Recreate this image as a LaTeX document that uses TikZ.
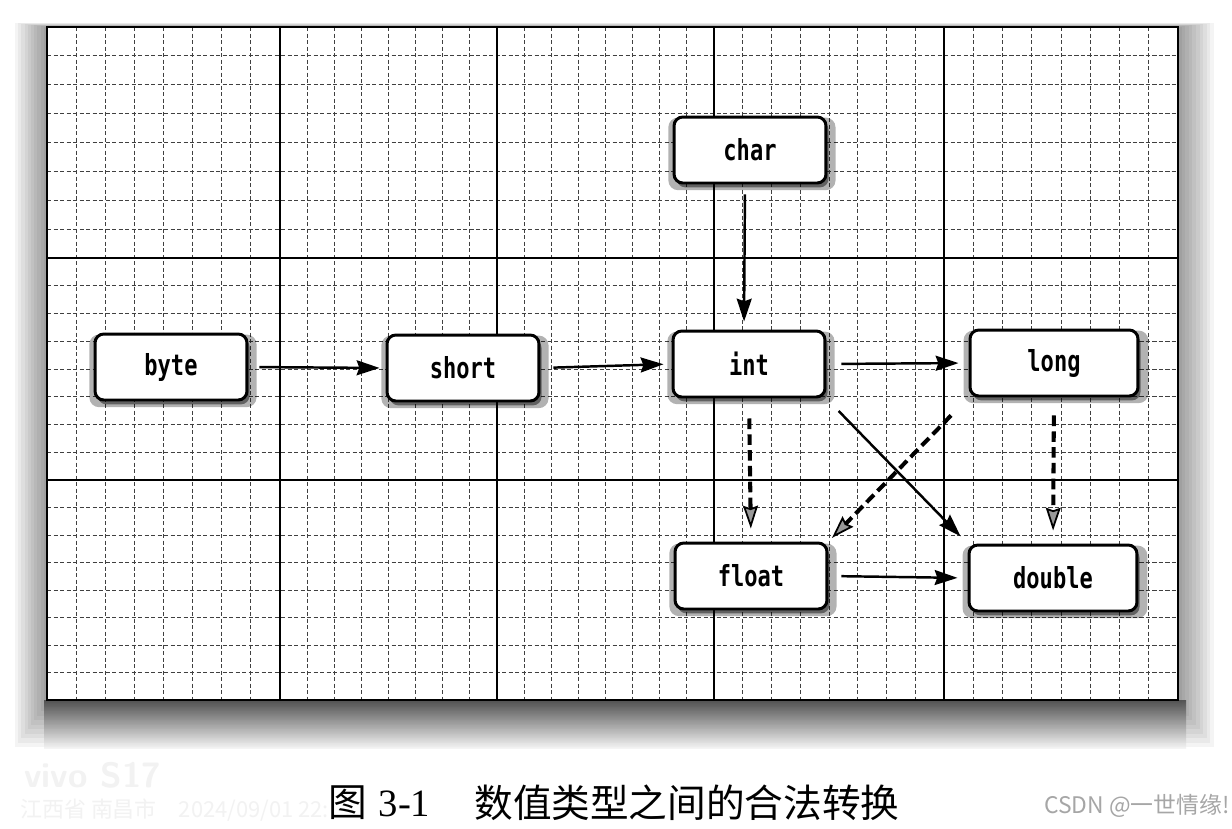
\documentclass[tikz,border=0pt]{standalone}
\usepackage{fontspec}
\usetikzlibrary{arrows.meta,shadows}
\newfontfamily\boxfont{DejaVu Sans Mono}[FakeStretch=0.76]
\newfontfamily\cjk{Noto Sans CJK SC}
\newfontfamily\capnum{Liberation Serif}
\tikzset{
  minorline/.style={black!75, line width=0.55pt, dash pattern=on 2.5pt off 1.2pt},
  majorline/.style={black, line width=1.1pt},
  typebox/.style={draw=black, line width=1.7pt, fill=white, rounded corners=5pt,
    minimum width=3.04cm, minimum height=1.32cm, inner sep=0pt,
    font=\boxfont\bfseries\fontsize{16.5}{19}\selectfont,
    general shadow={fill=black, opacity=0.3, shadow scale=1.1, shadow xshift=1pt, shadow yshift=-2pt},
    drop shadow={fill=black, opacity=0.45, shadow xshift=1.5pt, shadow yshift=-2.5pt}},
  widebox/.style={typebox, minimum width=3.36cm},
  conv/.style={line width=1.4pt, -{Stealth[length=13pt,width=8.5pt,inset=1.5pt]}},
  lossy/.style={line width=2.3pt, dash pattern=on 6pt off 3pt,
    -{Stealth[length=13pt,width=8.5pt,inset=1.5pt,fill=black!40,line width=1pt]}}
}
\begin{document}
\begin{tikzpicture}[x=0.02cm,y=-0.02cm]
\useasboundingbox (0,0) rectangle (1232,829);
\fill[white] (0,0) rectangle (1232,829);
% panel shadow
\foreach \i in {1,...,10}{
  \fill[black, opacity=0.045] ({47-3.2*\i},{27-0.4*\i}) rectangle ({1178+3.6*\i},{702+4.5*\i});
}
\shade[top color=black!75, bottom color=black!5, opacity=0.8] (44,700) rectangle (1186,748);
% panel
\fill[white] (47,27) rectangle (1178,700);
% minor grid
\foreach \a/\b in {47/280,280/497,497/714,714/944,944/1178}{
  \foreach \k in {1,...,7}{
    \draw[minorline] ({\a+\k*(\b-\a)/8},27) -- ({\a+\k*(\b-\a)/8},700);
  }
}
\foreach \a/\b in {27/258,258/480,480/700}{
  \foreach \k in {1,...,7}{
    \draw[minorline] (47,{\a+\k*(\b-\a)/8}) -- (1178,{\a+\k*(\b-\a)/8});
  }
}
% major grid
\foreach \x in {280,497,714,944}{ \draw[majorline] (\x,27) -- (\x,700); }
\foreach \y in {258,480}{ \draw[majorline] (47,\y) -- (1178,\y); }
\draw[majorline] (47,27) rectangle (1178,700);
% nodes
\node[typebox] (byte) at (171,367) {byte};
\node[typebox] (short) at (463,368) {short};
\node[typebox] (char) at (750,150) {char};
\node[typebox] (int) at (749,364) {int};
\node[widebox] (long) at (1054,363) {long};
\node[typebox] (float) at (751,576) {float};
\node[widebox] (double) at (1053,578) {double};
% conversions
\draw[conv, shorten <=0.22cm, shorten >=0.12cm] (byte.east) -- (short.west);
\draw[conv, shorten <=0.26cm, shorten >=0.16cm] (short.east) -- (int.west);
\draw[conv, shorten <=0.3cm, shorten >=0.2cm] (int.east) -- (long.west);
\draw[conv, shorten <=0.2cm, shorten >=0.16cm] ([xshift=-0.1cm]char.south) -- ([xshift=-0.1cm]int.north);
\draw[conv, shorten <=0.35cm, shorten >=0.2cm] (int.south east) -- (double.north west);
\draw[conv, shorten <=0.26cm, shorten >=0.2cm] (float.east) -- (double.west);
\draw[lossy, shorten <=0.4cm, shorten >=0.26cm] (int.south) -- (float.north);
\draw[lossy, shorten <=0.5cm, shorten >=0.1cm] (long.south west) -- (float.north east);
\draw[lossy, shorten <=0.36cm, shorten >=0.26cm] (long.south) -- (double.north);
% watermarks
\node[anchor=west, text=black!5, font=\sffamily\bfseries\fontsize{20}{24}\selectfont] (vivo) at (18,775) {vivo S17};
\node[anchor=west, text=black!5, font=\cjk\fontsize{12.5}{15}\selectfont] (place) at (14,810) {江西省 南昌市\quad 2024/09/01 22:};
% caption
\node[anchor=west, inner sep=0pt, font=\fontsize{22}{26}\selectfont] (figno) at (328,803) {{\cjk 图} {\capnum 3-1}};
\node[anchor=west, inner sep=0pt, font=\cjk\fontsize{22}{26}\selectfont] (caption) at (474,803) {数值类型之间的合法转换};
\node[anchor=east, inner sep=0pt, text=black!35, font=\cjk\fontsize{13}{16}\selectfont] (csdn) at (1230,806) {CSDN @一世情缘!};
\end{tikzpicture}
\end{document}
